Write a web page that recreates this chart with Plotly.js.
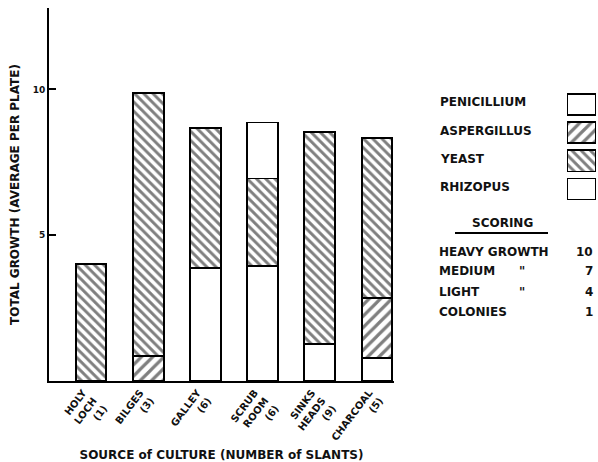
<!DOCTYPE html>
<html>
<head>
<meta charset="utf-8">
<script src="https://cdn.plot.ly/plotly-3.0.1.min.js"></script>
<style>html,body{margin:0;padding:0;background:#fff;}#chart{width:598px;height:462px;}</style>
</head>
<body>
<div id="chart"></div>
<script>
// ---- data ----
var sources = ['HOLY<br>LOCH<br>(1)', 'BILGES<br>(3)', 'GALLEY<br>(6)', 'SCRUB<br>ROOM<br>(6)', 'SINKS<br>HEADS<br>(9)', 'CHARCOAL<br>(5)'];
var organisms = ['PENICILLIUM', 'ASPERGILLUS', 'YEAST', 'RHIZOPUS'];
var penicillium = [null, null, 3.86, 3.95, 1.28, 0.80];
var aspergillus = [null, 0.86, null, null, null, 2.06];
var yeast       = [4.01, 9.00, 4.80, 3.00, 7.27, 5.47];
var rhizopus    = [null, null, null, 1.92, null, null];
var yTickVals = [5, 10];
var yTickText = ['5', '10'];
var scoringLabels = ['HEAVY GROWTH', 'MEDIUM', 'LIGHT', 'COLONIES'];
var scoringDitto  = ['', '"', '"', ''];
var scoringValues = ['10', '7', '4', '1'];

var FONT = 'DejaVu Sans';
var series = [penicillium, aspergillus, yeast, rhizopus];
var styles = [
  {color: '#ffffff', pattern: {shape: ''}},
  {color: '#ffffff', pattern: {shape: '/', fgcolor: '#000', bgcolor: '#fff', size: 8, solidity: 0.4, fillmode: 'overlay'}},
  {color: '#ffffff', pattern: {shape: '\\', fgcolor: '#000', bgcolor: '#fff', size: 6.5, solidity: 0.45, fillmode: 'overlay'}},
  {color: '#ffffff', pattern: {shape: ''}}
];
var lineW = [2, 2, 2, 1.5];

var traces = [];
series.forEach(function (vals, i) {
  traces.push({
    type: 'bar', x: sources, y: vals, name: organisms[i],
    width: 0.54,
    marker: {color: styles[i].color, pattern: styles[i].pattern, line: {color: '#000', width: lineW[i]}},
    showlegend: false, xaxis: 'x', yaxis: 'y',
    hovertemplate: '%{y}<extra>' + organisms[i] + '</extra>'
  });
});
// legend swatches (one horizontal bar per organism)
organisms.forEach(function (name, i) {
  traces.push({
    type: 'bar', orientation: 'h', y: [name], x: [1], base: [0], width: 0.75,
    marker: {color: styles[i].color, pattern: styles[i].pattern, line: {color: '#000', width: 1.8}},
    showlegend: false, xaxis: 'x2', yaxis: 'y2', hoverinfo: 'skip'
  });
});

function py(px) { return (381 - px) / 373; }
function px(x) { return (x - 49) / 548; }

var annotations = [];
organisms.forEach(function (name, i) {
  annotations.push({xref: 'paper', yref: 'y2', x: px(438), y: i, xanchor: 'left', yanchor: 'middle',
    yshift: 2, text: name, showarrow: false, font: {family: FONT, size: 12, weight: 'bold', color: '#111'}});
});
annotations.push({xref: 'paper', yref: 'paper', x: px(502), y: py(223), xanchor: 'center', yanchor: 'middle',
  text: 'SCORING', showarrow: false, font: {family: FONT, size: 12, weight: 'bold', color: '#111'}});
var rowY = [252, 271, 292, 312];
scoringLabels.forEach(function (lab, i) {
  annotations.push({xref: 'paper', yref: 'paper', x: px(437), y: py(rowY[i]), xanchor: 'left', yanchor: 'middle',
    text: lab, showarrow: false, font: {family: FONT, size: 12, weight: 'bold', color: '#111'}});
  if (scoringDitto[i]) {
    annotations.push({xref: 'paper', yref: 'paper', x: px(522), y: py(rowY[i]), xanchor: 'center', yanchor: 'middle',
      text: scoringDitto[i], showarrow: false, font: {family: FONT, size: 12, weight: 'bold', color: '#111'}});
  }
  annotations.push({xref: 'paper', yref: 'paper', x: px(595), y: py(rowY[i]), xanchor: 'right', yanchor: 'middle',
    text: scoringValues[i], showarrow: false, font: {family: FONT, size: 12, weight: 'bold', color: '#111'}});
});

var layout = {
  width: 598, height: 462,
  margin: {l: 49, r: 1, t: 8, b: 81},
  paper_bgcolor: '#fff', plot_bgcolor: '#fff',
  barmode: 'stack', bargap: 0.46,
  showlegend: false,
  font: {family: FONT, color: '#111'},
  xaxis: {
    domain: [0, px(394)], range: [-0.734, 5.297], type: 'category',
    showline: true, linecolor: '#000', linewidth: 2, ticks: '', showgrid: false, zeroline: false,
    tickangle: -53, ticklabelshift: -8,
    tickfont: {family: FONT, size: 10, weight: 'bold', color: '#111'},
    title: {text: 'SOURCE of CULTURE (NUMBER of SLANTS)', font: {family: FONT, size: 12, weight: 'bold', color: '#111'}, standoff: 6},
    automargin: false, fixedrange: true
  },
  yaxis: {
    domain: [0, 1], range: [0, 12.79],
    showline: true, linecolor: '#000', linewidth: 2, showgrid: false, zeroline: false,
    ticks: 'inside', ticklen: 7, tickwidth: 2, tickcolor: '#000',
    tickvals: yTickVals, ticktext: yTickText,
    tickfont: {family: FONT, size: 9, weight: 'bold', color: '#111'},
    title: {text: 'TOTAL GROWTH (AVERAGE PER PLATE)', font: {family: FONT, size: 12, weight: 'bold', color: '#111'}, standoff: 10},
    automargin: false, fixedrange: true
  },
  xaxis2: {domain: [px(567), px(596)], range: [0, 1], visible: false, anchor: 'y2', fixedrange: true},
  yaxis2: {domain: [py(203.1), py(90.4)], type: 'category', categoryarray: organisms, range: [3.5, -0.5],
    visible: false, anchor: 'x2', fixedrange: true},
  annotations: annotations,
  shapes: [{type: 'line', xref: 'paper', yref: 'paper', x0: px(455), x1: px(548), y0: py(233), y1: py(233),
    line: {color: '#000', width: 2}}]
};

Plotly.newPlot('chart', traces, layout, {displayModeBar: false, staticPlot: false});
</script>
</body>
</html>
